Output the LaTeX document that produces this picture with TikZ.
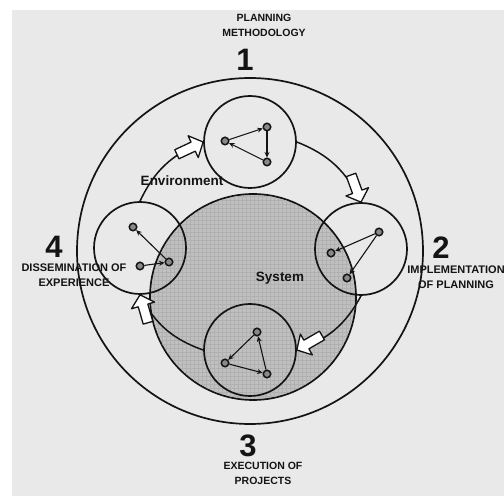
\documentclass[tikz,border=0pt]{standalone}
\usepackage{fontspec}
\setmainfont{Liberation Sans}
\usetikzlibrary{arrows.meta}
\definecolor{bg}{HTML}{E9E9E9}
\definecolor{sysgray}{HTML}{C0C0C0}
\definecolor{gridgray}{HTML}{B0B0B0}
\definecolor{ink}{HTML}{141414}
\begin{document}
\begin{tikzpicture}[x=1pt,y=1pt,
  ring/.style={circle, draw=ink, line width=1.7pt, inner sep=0pt},
  vtx/.style={circle, draw=ink, fill=ink!50, line width=1.5pt, inner sep=0pt, minimum size=7.5pt},
  edge/.style={draw=ink, line width=1.1pt, -{Stealth[length=5.5pt,width=5pt]}},
  cyc/.style={draw=ink, line width=1.5pt},
  lbl/.style={font=\bfseries\fontsize{10.5}{15}\selectfont, inner sep=0pt, align=center, text=ink},
  lblb/.style={font=\bfseries\fontsize{11}{14.5}\selectfont, inner sep=0pt, align=center, text=ink},
  num/.style={font=\bfseries\fontsize{31}{31}\selectfont, inner sep=0pt, text=ink},
  word/.style={font=\bfseries\fontsize{13.5}{13.5}\selectfont, inner sep=0pt, text=ink},
  blockarrow/.pic={\filldraw[fill=white, draw=ink, line width=1.3pt, line join=round]
     (-29,-5) -- (-11,-5) -- (-11,-12) -- (0,0) -- (-11,12) -- (-11,5) -- (-29,5) -- cycle;}
]
\useasboundingbox (0,0) rectangle (504,496);
\clip (0,0) rectangle (504,496);
\fill[white] (0,0) rectangle (504,496);
\fill[bg] (12,0) rectangle (504,486);

% outer ring
\node[ring, minimum size=346pt] (outer) at (250,245) {};

% system circle with grid texture
\node[ring, fill=sysgray, minimum size=206pt] (sys) at (253,199) {};
\begin{scope}
  \clip (253,199) circle (102);
  \foreach \k in {0,...,52} {
    \draw[gridgray, line width=0.5pt] (150+4*\k,96) -- ++(0,206);
    \draw[gridgray, line width=0.5pt] (150,96+4*\k) -- ++(206,0);
  }
\end{scope}

% four small circles
\node[ring, minimum size=92pt] (c1) at (250,354) {};
\node[ring, minimum size=92pt] (c2) at (361,247) {};
\node[ring, minimum size=92pt] (c3) at (250,146) {};
\node[ring, minimum size=92pt] (c4) at (140,248) {};

% cycle arcs
\draw[cyc] (c1.east) to[bend left=21.5] (c2.north);
\draw[cyc] (c2.south) to[bend left=21.5] (c3.east);
\draw[cyc] (c3.west) to[bend left=21.5] (c4.south);
\draw[cyc] (c4.north) to[bend left=21.5] (c1.west);

% mini graphs
\node[vtx] (a1) at (225,355) {};
\node[vtx] (a2) at (267,369) {};
\node[vtx] (a3) at (267,334) {};
\draw[edge] (a1) -- (a2);
\draw[edge] (a2) -- (a3);
\draw[edge] (a3) -- (a1);

\node[vtx] (b1) at (379,264) {};
\node[vtx] (b2) at (331,243) {};
\node[vtx] (b3) at (347,218) {};
\draw[edge] (b1) -- (b2);
\draw[edge] (b1) -- (b3);

\node[vtx] (d1) at (257,164) {};
\node[vtx] (d2) at (225,133) {};
\node[vtx] (d3) at (267,122) {};
\draw[edge] (d1) -- (d2);
\draw[edge] (d2) -- (d3);
\draw[edge] (d3) -- (d1);

\node[vtx] (e1) at (133,269) {};
\node[vtx] (e2) at (169,234) {};
\node[vtx] (e3) at (140,230) {};
\draw[edge] (e2) -- (e1);
\draw[edge] (e3) -- (e2);

% block arrows
\pic[rotate=-70] at (c2.north) {blockarrow};
\pic[rotate=-150] at (c3.east) {blockarrow};
\pic[rotate=106] at (c4.south) {blockarrow};
\pic[rotate=25] at (c1.west) {blockarrow};

% words
\node[word] (env) at (182,315) {Environment};
\node[word] (systxt) at (280,218) {System};

% numbers and labels
\node[num] (n1) at (245,436) {1};
\node[num] (n2) at (441,248) {2};
\node[num] (n3) at (248,50) {3};
\node[num] (n4) at (54,249) {4};

\node[lbl] (l1) at (264,471) {PLANNING\\METHODOLOGY};
\node[lblb] (l2) at (456,219) {IMPLEMENTATION\\OF PLANNING};
\node[lbl] (l3) at (263,23) {EXECUTION OF\\PROJECTS};
\node[lblb] (l4) at (74,221) {DISSEMINATION OF\\EXPERIENCE};
\end{tikzpicture}
\end{document}
